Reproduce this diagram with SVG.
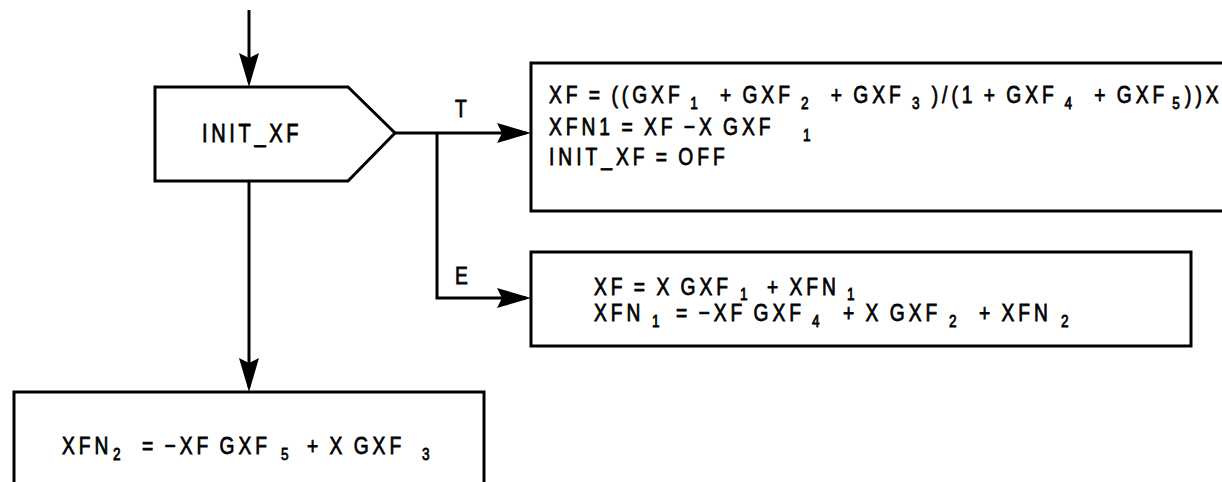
<svg xmlns="http://www.w3.org/2000/svg" width="1222" height="482" viewBox="0 0 1222 482">
<style>
  .box { fill: #fff; stroke: #000; stroke-width: 3; }
  .wire { fill: none; stroke: #000; stroke-width: 3; }
  text { font-family: "Liberation Sans", Arial, sans-serif; fill: #000; stroke: #000; stroke-width: 0.8px; }
  .t { font-size: 24px; letter-spacing: 5px; word-spacing: -2.5px; }
  .s { font-size: 17px; }
  .lbl { font-size: 24px; letter-spacing: 5px; }
</style>
<defs>
  <marker id="ah" markerUnits="userSpaceOnUse" viewBox="0 0 34 20" refX="29" refY="10" markerWidth="34" markerHeight="20" orient="auto">
    <path d="M0,0 L34,10 L0,20 L5,10 Z" fill="#000"/>
  </marker>
</defs>
<rect width="1222" height="482" fill="#fff"/>

<g id="connectors">
  <path class="wire" d="M249,10 V82" marker-end="url(#ah)"/>
  <path class="wire" d="M249,181 V387" marker-end="url(#ah)"/>
  <path class="wire" d="M395,133 H526" marker-end="url(#ah)"/>
  <path class="wire" d="M437,133 V298 H526" marker-end="url(#ah)"/>
  <text class="lbl" transform="translate(455,117) scale(0.8,1)">T</text>
  <text class="lbl" transform="translate(455,284) scale(0.8,1)">E</text>
</g>

<g id="init_xf">
  <polygon class="box" points="155,87 348,87 395,133 348,181 155,181"/>
  <text class="lbl" transform="translate(202,142) scale(0.8,1)" style="font-size:25px;letter-spacing:4.6px">INIT_XF</text>
</g>

<g id="true_branch">
  <rect class="box" x="531" y="63" width="720" height="148"/>
  <text class="t" transform="translate(549,103) scale(0.8,1)"><tspan x="0">XF = ((GXF</tspan><tspan class="s" x="176.5" dy="6">1</tspan><tspan x="213.6" dy="-6">+ GXF</tspan><tspan class="s" x="315.1" dy="6">2</tspan><tspan x="352.3" dy="-6">+ GXF</tspan><tspan class="s" x="453.8" dy="6">3</tspan><tspan x="478.4" dy="-6">)/(1 + GXF</tspan><tspan class="s" x="644.4" dy="6">4</tspan><tspan x="681.5" dy="-6">+ GXF</tspan><tspan class="s" x="779" dy="6">5</tspan><tspan x="795" dy="-6">))X</tspan></text>
  <text class="t" transform="translate(549,134.5) scale(0.8,1)"><tspan x="0">XFN1 = XF −X GXF</tspan><tspan class="s" x="317.5" dy="6">1</tspan></text>
  <text class="t" transform="translate(549,165) scale(0.8,1)">INIT_XF = OFF</text>
</g>

<g id="else_branch">
  <rect class="box" x="531" y="252" width="660" height="94"/>
  <text class="t" transform="translate(594,295) scale(0.8,1)"><tspan x="0">XF = X GXF</tspan><tspan class="s" x="182.5" dy="5">1</tspan><tspan x="216.3" dy="-5">+ XFN</tspan><tspan class="s" x="316.3" dy="5">1</tspan></text>
  <text class="t" transform="translate(594,321) scale(0.8,1)"><tspan x="0">XFN</tspan><tspan class="s" x="72.5" dy="6">1</tspan><tspan x="102.5" dy="-6">= −XF GXF</tspan><tspan class="s" x="272.5" dy="6">4</tspan><tspan x="311.3" dy="-6">+ X GXF</tspan><tspan class="s" x="443.8" dy="6">2</tspan><tspan x="481.3" dy="-6">+ XFN</tspan><tspan class="s" x="583.8" dy="6">2</tspan></text>
</g>

<g id="xfn2">
  <rect class="box" x="14" y="392" width="470" height="110"/>
  <text class="t" transform="translate(62,454) scale(0.8,1)"><tspan x="0">XFN</tspan><tspan class="s" x="63.8" dy="6">2</tspan><tspan x="100" dy="-6">= −XF GXF</tspan><tspan class="s" x="273.8" dy="6">5</tspan><tspan x="306.3" dy="-6">+ X GXF</tspan><tspan class="s" x="450" dy="6">3</tspan></text>
</g>
</svg>
